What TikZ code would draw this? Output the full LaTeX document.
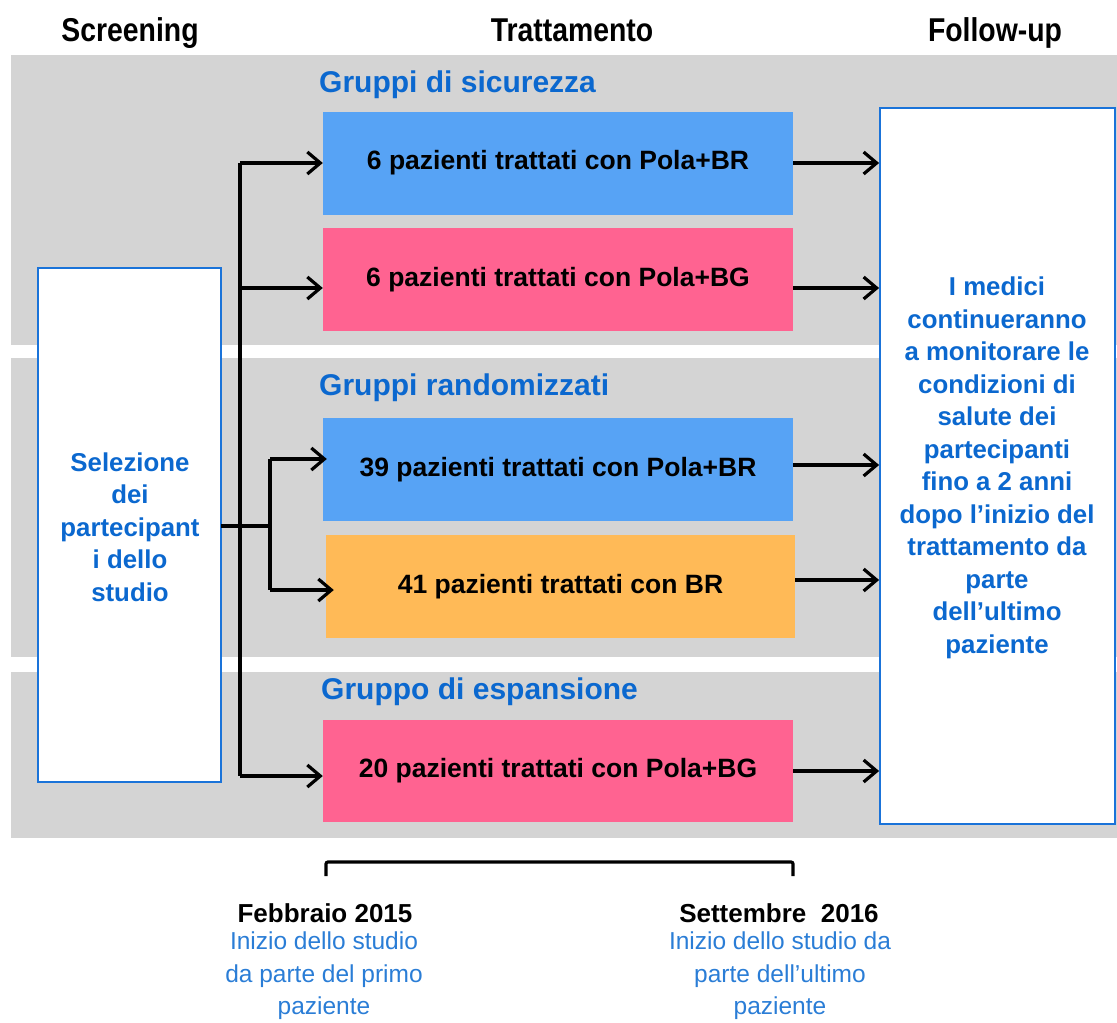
\documentclass[tikz,border=0pt]{standalone}
\usepackage{fontspec}
\setmainfont{Liberation Sans}
\newfontfamily\hdrfont{Liberation Sans}[FakeStretch=0.86]
\usetikzlibrary{arrows.meta}
\definecolor{bandgray}{HTML}{D4D4D4}
\definecolor{boxblue}{HTML}{57A3F5}
\definecolor{boxpink}{HTML}{FF6391}
\definecolor{boxorange}{HTML}{FFBA57}
\definecolor{txtblue}{HTML}{0B68CF}
\definecolor{descblue}{HTML}{2A7DD6}
\definecolor{edgeblue}{HTML}{1A73D9}
\tikzset{
  band/.style={fill=bandgray, draw=none},
  hdr/.style={font=\hdrfont\bfseries\fontsize{33}{36}\selectfont, text=black, inner sep=0pt, anchor=base},
  grp/.style={font=\bfseries\fontsize{30}{33}\selectfont, text=txtblue, inner sep=0pt, anchor=west},
  tbox/.style={draw=none, minimum width=470pt, minimum height=103pt, inner sep=0pt,
    font=\bfseries\fontsize{26.5}{30}\selectfont, text=black},
  sidebox/.style={draw=edgeblue, line width=1.8pt, fill=white, inner sep=0pt},
  sidetxt/.style={font=\bfseries\fontsize{25.8}{32.5}\selectfont, text=txtblue, align=center, inner sep=0pt},
  datetxt/.style={font=\bfseries\fontsize{26}{30}\selectfont, text=black, inner sep=0pt},
  desctxt/.style={font=\fontsize{24.5}{32.5}\selectfont, text=descblue, align=center, inner sep=0pt},
  arr/.style={line width=3.2pt, -{Straight Barb[length=13pt,width=22pt,line width=3.2pt]}},
  conn/.style={line width=3.2pt},
}
\begin{document}
\begin{tikzpicture}[x=1pt, y=-1pt]
\useasboundingbox (0,0) rectangle (1117,1023);
% bands
\fill[band] (11,55) rectangle (1117,345);
\fill[band] (11,358) rectangle (1117,657);
\fill[band] (11,672) rectangle (1117,838);
% headers
\node[hdr] (hs) at (130,41) {Screening};
\node[hdr] (ht) at (572,41) {Trattamento};
\node[hdr] (hf) at (995,41) {Follow-up};
% group labels
\node[grp] (g1) at (319,85) {Gruppi di sicurezza};
\node[grp] (g2) at (319,388) {Gruppi randomizzati};
\node[grp] (g3) at (321,692) {Gruppo di espansione};
% side boxes
\node[sidebox, minimum width=183pt, minimum height=514pt] (scr) at (129.5,525) {};
\node[sidetxt] (scrt) at (130,527) {Selezione\\dei\\partecipant\\i dello\\studio};
\node[sidebox, minimum width=235pt, minimum height=716pt] (fu) at (997.5,466) {};
\node[sidetxt] (fut) at (997,468) {I medici\\continueranno\\a monitorare le\\condizioni di\\salute dei\\partecipanti\\fino a 2 anni\\dopo l’inizio del\\trattamento da\\parte\\dell’ultimo\\paziente};
% treatment boxes
\node[tbox, fill=boxblue] (b1) at (558,163) {6 pazienti trattati con Pola+BR};
\node[tbox, fill=boxpink] (b2) at (558,279.5) {6 pazienti trattati con Pola+BG};
\node[tbox, fill=boxblue] (b3) at (558,469.5) {39 pazienti trattati con Pola+BR};
\node[tbox, fill=boxorange, minimum width=469pt] (b4) at (560.5,586.5) {41 pazienti trattati con BR};
\node[tbox, fill=boxpink, minimum height=102pt] (b5) at (558,771) {20 pazienti trattati con Pola+BG};
% left connectors
\coordinate (t1) at (240,163);
\coordinate (t2) at (240,288);
\coordinate (t5) at (240,776);
\coordinate (m0) at (221,526);
\coordinate (m1) at (270,526);
\coordinate (m3) at (270,459);
\coordinate (m4) at (270,590);
\draw[conn] (t1) -- (t5);
\draw[arr] (t1) -- (t1 -| b1.west);
\draw[arr] (t2) -- (t2 -| b2.west);
\draw[arr] (t5) -- (t5 -| b5.west);
\draw[conn] (m0) -- (m1);
\draw[conn] (m3) -- (m4);
\draw[arr] (m3) -- ([xshift=4pt]m3 -| b3.west);
\draw[arr] (m4) -- ([xshift=8pt]m4 -| b4.west);
% right connectors
\coordinate (r1) at (793,163);
\coordinate (r2) at (793,288);
\coordinate (r3) at (793,465);
\coordinate (r4) at (795,580);
\coordinate (r5) at (793,771);
\draw[arr] (r1) -- (r1 -| fu.west);
\draw[arr] (r2) -- (r2 -| fu.west);
\draw[arr] (r3) -- (r3 -| fu.west);
\draw[arr] (r4) -- (r4 -| fu.west);
\draw[arr] (r5) -- (r5 -| fu.west);
% bracket
\coordinate (k1) at (326,876);
\coordinate (k2) at (793,876);
\draw[conn, rounded corners=2pt] (k1) -- ++(0,-14) -| (k2);
% dates
\node[datetxt] (d1) at (325,913) {Febbraio 2015};
\node[desctxt] (d1t) at (324,976) {Inizio dello studio\\da parte del primo\\paziente};
\node[datetxt] (d2) at (779,913) {Settembre\ \ 2016};
\node[desctxt] (d2t) at (780,976) {Inizio dello studio da\\parte dell’ultimo\\paziente};
\end{tikzpicture}
\end{document}
